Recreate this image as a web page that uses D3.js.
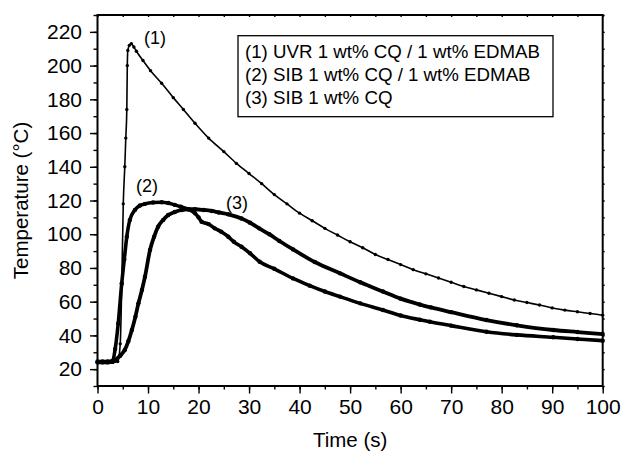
<!DOCTYPE html>
<html>
<head>
<meta charset="utf-8">
<script src="https://cdn.jsdelivr.net/npm/d3@7"></script>
<style>
  html, body { margin: 0; padding: 0; background: #fff; }
  svg { display: block; font-family: "Liberation Sans", Arial, Helvetica, sans-serif; }
</style>
</head>
<body>
<svg id="chart" width="622" height="454"></svg>
<script>
// ---- data ----
const time1 = [0,1,2,3,4,4.5,4.8,5.1,5.4,5.6,5.8,5.9,6.0,6.3,6.7,7.2,7.7,9,10.5,12.7,15,17,19.3,22,25,27.5,30,32.5,35,37.5,40,42.5,45,47.5,50,52.5,55,57.5,60,62.5,65,67.5,70,72.5,75,77.5,80,82.5,85,87.5,90,92.5,95,97.5,100];
const temp1 = [24,24,24,24,24.5,35,70,118,140,157,174,200,209,212,213,211,208.5,203,197,189.5,181,174,165.8,157,149,142,136,130,123.5,118,112.5,108,103.5,99.5,95.5,92,88,85,82,79,76.5,74,71.5,69,67,65,63,61,59.5,58,56.3,55,54,53,52];

const time2 = [0,1,2,3,3.5,4.1,4.8,5.3,5.8,6.4,7.4,8.4,9.4,11,12.7,14,15.3,16.5,18,19.3,20,20.6,22,23.2,24.5,25.9,27,28.5,30.2,32.1,35,38.7,42,45,48,52,56.5,60,63.8,65.8,70,77,83,90.2,95,100];
const temp2 = [24.5,24.5,24.5,25,32,47,71,85,98.5,108.5,114.4,117,118,118.8,119,118.5,117.4,116.3,114.8,112.4,110,107.4,106,103.5,101.5,98.5,95.5,92.6,88.7,83.7,79.5,73.8,69.5,66,63,59,55.1,51.8,49.3,48.1,45.8,42.2,40.3,38.9,37.9,36.9];

const time3 = [0,1,2,3,3.5,4.5,5.4,6.1,6.8,7.5,8.1,8.8,9.4,10.4,11.2,12,13,14,15.3,16.7,18,19.3,21,22.6,24,25.9,28.5,30.2,32,34,36,38.7,43,48,52,56.5,60,63.8,66,70,77,83,90.2,95,100];
const temp3 = [24,24,24,24.5,25.4,28,31.4,36.5,43.2,51,59,67,74.8,90.7,98.5,104.5,108.5,111.4,113.2,114.4,114.8,114.8,114.4,113.8,112.9,111.8,109.3,106.8,103.5,100,96,91,83.5,76.8,71.5,66,61.8,58.3,56.6,53.8,49.1,46,43.2,42,40.8];

const xTicks = [0,10,20,30,40,50,60,70,80,90,100];
const yTicks = [20,40,60,80,100,120,140,160,180,200,220];
const legendLabels = ["(1) UVR 1 wt% CQ / 1 wt% EDMAB", "(2) SIB 1 wt% CQ / 1 wt% EDMAB", "(3) SIB 1 wt% CQ"];
const curveLabels = ["(1)", "(2)", "(3)"];
const xTitle = "Time (s)";
const yTitle = "Temperature (\u00B0C)";

// ---- layout ----
const L = 97.5, R = 602.7, T = 15, B = 386;
const svg = d3.select("#chart");
const x = d3.scaleLinear().domain([0, 100]).range([L, R]);
const y = d3.scaleLinear().domain([10, 230]).range([B, T]);

const series = [
  { t: time1, v: temp1, w: 1.6, r: 1.7 },
  { t: time2, v: temp2, w: 3.6, r: 2.2 },
  { t: time3, v: temp3, w: 3.8, r: 2.2 }
];

const line = d3.line().x(d => x(d[0])).y(d => y(d[1])).curve(d3.curveMonotoneX);
const gData = svg.append("g");
series.forEach(s => {
  const pts = s.t.map((t, i) => [t, s.v[i]]);
  gData.append("path").datum(pts).attr("d", line)
    .attr("fill", "none").attr("stroke", "#000").attr("stroke-width", s.w)
    .attr("stroke-linejoin", "round");
  gData.selectAll(null).data(pts).enter().append("circle")
    .attr("cx", d => x(d[0])).attr("cy", d => y(d[1])).attr("r", s.r).attr("fill", "#000");
});

// ---- axes ----
const fsTick = 21;
const xMinor = d3.range(0, 101, 5);
const yMinor = d3.range(10, 231, 10);

svg.append("g").attr("transform", `translate(0,${B})`)
  .call(d3.axisBottom(x).tickValues(xMinor).tickSize(3.5).tickFormat(""));
const gx2 = svg.append("g").attr("transform", `translate(0,${B})`)
  .call(d3.axisBottom(x).tickValues(xTicks).tickSize(7.5).tickPadding(6).tickFormat(d3.format("d")));
gx2.selectAll("text").attr("font-size", fsTick).attr("fill", "#000");

svg.append("g").attr("transform", `translate(${L},0)`)
  .call(d3.axisLeft(y).tickValues(yMinor).tickSize(4).tickFormat(""));
const gy2 = svg.append("g").attr("transform", `translate(${L},0)`)
  .call(d3.axisLeft(y).tickValues(yTicks).tickSize(7.5).tickPadding(8).tickFormat(d3.format("d")));
gy2.selectAll("text").attr("font-size", fsTick).attr("fill", "#000");

// top and right small ticks
svg.append("g").attr("transform", `translate(0,${T})`)
  .call(d3.axisTop(x).tickValues(xMinor).tickSize(-2).tickFormat(""));
svg.append("g").attr("transform", `translate(${R},0)`)
  .call(d3.axisRight(y).tickValues(yMinor).tickSize(2).tickFormat(""));

svg.selectAll(".domain").remove();
svg.selectAll(".tick line").attr("stroke", "#000").attr("stroke-width", 1.4);

// frame
svg.append("rect").attr("x", L).attr("y", T).attr("width", R - L).attr("height", B - T)
  .attr("fill", "none").attr("stroke", "#000").attr("stroke-width", 2);

// axis titles
svg.append("text").attr("x", (L + R) / 2).attr("y", 447).attr("text-anchor", "middle")
  .attr("font-size", 20.5).text(xTitle);
svg.append("text").attr("transform", `translate(28,${(T + B) / 2}) rotate(-90)`)
  .attr("text-anchor", "middle").attr("font-size", 20.5).text(yTitle);

// legend
const lg = svg.append("g");
lg.append("rect").attr("x", 238).attr("y", 35.7).attr("width", 315).attr("height", 81)
  .attr("fill", "#fff").attr("stroke", "#000").attr("stroke-width", 1.3);
lg.selectAll("text").data(legendLabels).enter().append("text")
  .attr("x", 245).attr("y", (d, i) => 58 + i * 22.8)
  .attr("font-size", 18.7).attr("fill", "#000").text(d => d);

// curve labels (positioned at data coordinates)
const labelPos = [[11.4, 213], [9.8, 125], [27.6, 114.7]];
svg.selectAll(".clab").data(curveLabels).enter().append("text")
  .attr("class", "clab")
  .attr("x", (d, i) => x(labelPos[i][0])).attr("y", (d, i) => y(labelPos[i][1]))
  .attr("text-anchor", "middle").attr("font-size", 18).text(d => d);
</script>
</body>
</html>
